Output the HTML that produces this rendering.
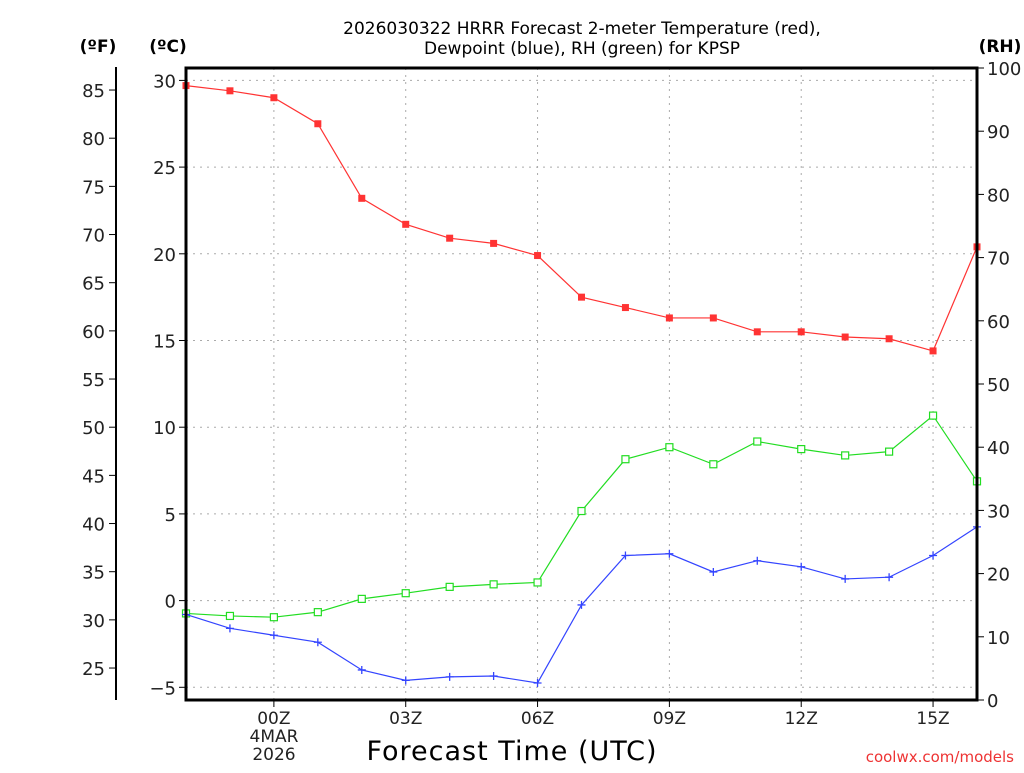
<!DOCTYPE html>
<html><head><meta charset="utf-8"><style>
body{margin:0;background:#fff;width:1024px;height:768px;overflow:hidden}
svg text{font-family:"DejaVu Sans","Liberation Sans",sans-serif}
</style></head><body>
<svg id="chart" width="1024" height="768" xmlns="http://www.w3.org/2000/svg"></svg>
<script>
const hours=[-2,-1,0,1,2,3,4,5,6,7,8,9,10,11,12,13,14,15,16];
const tempC=[29.7,29.4,29.0,27.5,23.2,21.7,20.9,20.6,19.9,17.5,16.9,16.3,16.3,15.5,15.5,15.2,15.1,14.4,20.4];
const dewC=[-0.8,-1.6,-2.0,-2.4,-4.0,-4.6,-4.4,-4.35,-4.75,-0.25,2.6,2.7,1.65,2.3,1.95,1.25,1.35,2.6,4.25];
const rh=[13.7,13.3,13.1,13.9,16.0,16.9,17.9,18.3,18.6,29.9,38.1,40.0,37.3,40.9,39.7,38.7,39.3,45.0,34.6];
const cTicks=[30,25,20,15,10,5,0,-5];
const fTicks=[85,80,75,70,65,60,55,50,45,40,35,30,25];
const rhTicks=[100,90,80,70,60,50,40,30,20,10,0];
const xTickHours=[0,3,6,9,12,15];
const xTickLabels=["00Z","03Z","06Z","09Z","12Z","15Z"];

const L=186,R=977,T=68,B=700;
const x=h=>L+(h+2)/18*(R-L);
const yC=c=>600.6-c*17.34;
const yF=f=>yC((f-32)*5/9);
const yRH=v=>B-v/100*(B-T);
const svg=document.getElementById('chart');
const NS='http://www.w3.org/2000/svg';
function el(tag,attrs,parent){const e=document.createElementNS(NS,tag);for(const k in attrs)e.setAttribute(k,attrs[k]);(parent||svg).appendChild(e);return e;}
function txt(s,attrs){const e=el('text',attrs);e.textContent=s;return e;}

// grid
xTickHours.forEach(h=>{const g=el('line',{x1:x(h),x2:x(h),y1:T,y2:B,stroke:'#aaa','stroke-dasharray':'2,5'});

});
cTicks.forEach(c=>{const g=el('line',{x1:L,x2:R,y1:yC(c),y2:yC(c),stroke:'#aaa','stroke-dasharray':'2,5'});

});

// series
function series(vals,yf,color,marker,name){
  const pts=vals.map((v,i)=>x(hours[i])+','+yf(v)).join(' ');
  const pl=el('polyline',{points:pts,fill:'none',stroke:color,'stroke-width':1.2});
  
  
  vals.forEach((v,i)=>{const cx=x(hours[i]),cy=yf(v);let m;
    if(marker==='fill')m=el('rect',{x:cx-3.5,y:cy-3.5,width:7,height:7,fill:color});
    else if(marker==='open')m=el('rect',{x:cx-3.5,y:cy-3.5,width:7,height:7,fill:'#fff',stroke:color,'stroke-width':1.2});
    else m=el('path',{d:`M${cx-4},${cy}H${cx+4}M${cx},${cy-4}V${cy+4}`,stroke:color,'stroke-width':1.3});
    
    });
}
series(rh,yRH,'#22dd22','open','rh');
series(dewC,yC,'#3344ff','plus','dewpoint');
series(tempC,yC,'#ff3333','fill','temperature');

// frame
const fr=el('rect',{x:L,y:T,width:R-L,height:B-T,fill:'none',stroke:'#000','stroke-width':3});


// C axis
cTicks.forEach(c=>{el('line',{x1:L-7,x2:L,y1:yC(c),y2:yC(c),stroke:'#000'});
const t=txt(c<0?'\u2212'+(-c):String(c),{x:L-10,y:yC(c)+7,'text-anchor':'end','font-size':18,fill:'#222'});
});
// F axis
el('line',{x1:116,x2:116,y1:67,y2:700,stroke:'#000','stroke-width':2});
fTicks.forEach(f=>{el('line',{x1:109,x2:116,y1:yF(f),y2:yF(f),stroke:'#000'});
const t=txt(String(f),{x:105,y:yF(f)+7,'text-anchor':'end','font-size':18,fill:'#222'});
});
// RH axis
rhTicks.forEach(v=>{el('line',{x1:R,x2:R+7,y1:yRH(v),y2:yRH(v),stroke:'#000'});
const t=txt(String(v),{x:R+10,y:yRH(v)+7,'font-size':18,fill:'#222'});
});
// x axis
xTickHours.forEach((h,i)=>{el('line',{x1:x(h),x2:x(h),y1:B,y2:B+7,stroke:'#000'});
const t=txt(xTickLabels[i],{x:x(h),y:724,'text-anchor':'middle','font-size':17,fill:'#222'});
});
</script>
<svg style="position:absolute;left:0;top:0" width="1024" height="768" xmlns="http://www.w3.org/2000/svg">
<text x="274" y="742" text-anchor="middle" font-size="17" fill="#222" font-family="DejaVu Sans,sans-serif">4MAR</text>
<text x="274" y="760" text-anchor="middle" font-size="17" fill="#222" font-family="DejaVu Sans,sans-serif">2026</text>
<text x="512" y="760" text-anchor="middle" font-size="27" fill="#000" font-family="DejaVu Sans,sans-serif" letter-spacing="1">Forecast Time (UTC)</text>
<text x="1014" y="762" text-anchor="end" font-size="15" fill="#ee3333" font-family="DejaVu Sans Mono,monospace">coolwx.com/models</text>
<text x="582" y="34" text-anchor="middle" font-size="17" fill="#000" font-family="DejaVu Sans Mono,monospace">2026030322 HRRR Forecast 2-meter Temperature (red),</text>
<text x="582" y="54" text-anchor="middle" font-size="17" fill="#000" font-family="DejaVu Sans Mono,monospace">Dewpoint (blue), RH (green) for KPSP</text>
<text x="98" y="52" text-anchor="middle" font-size="17" font-weight="bold" font-family="DejaVu Sans,sans-serif">(ºF)</text>
<text x="168" y="52" text-anchor="middle" font-size="17" font-weight="bold" font-family="DejaVu Sans,sans-serif">(ºC)</text>
<text x="1000" y="52" text-anchor="middle" font-size="17" font-weight="bold" font-family="DejaVu Sans,sans-serif">(RH)</text>
</svg>
</body></html>
